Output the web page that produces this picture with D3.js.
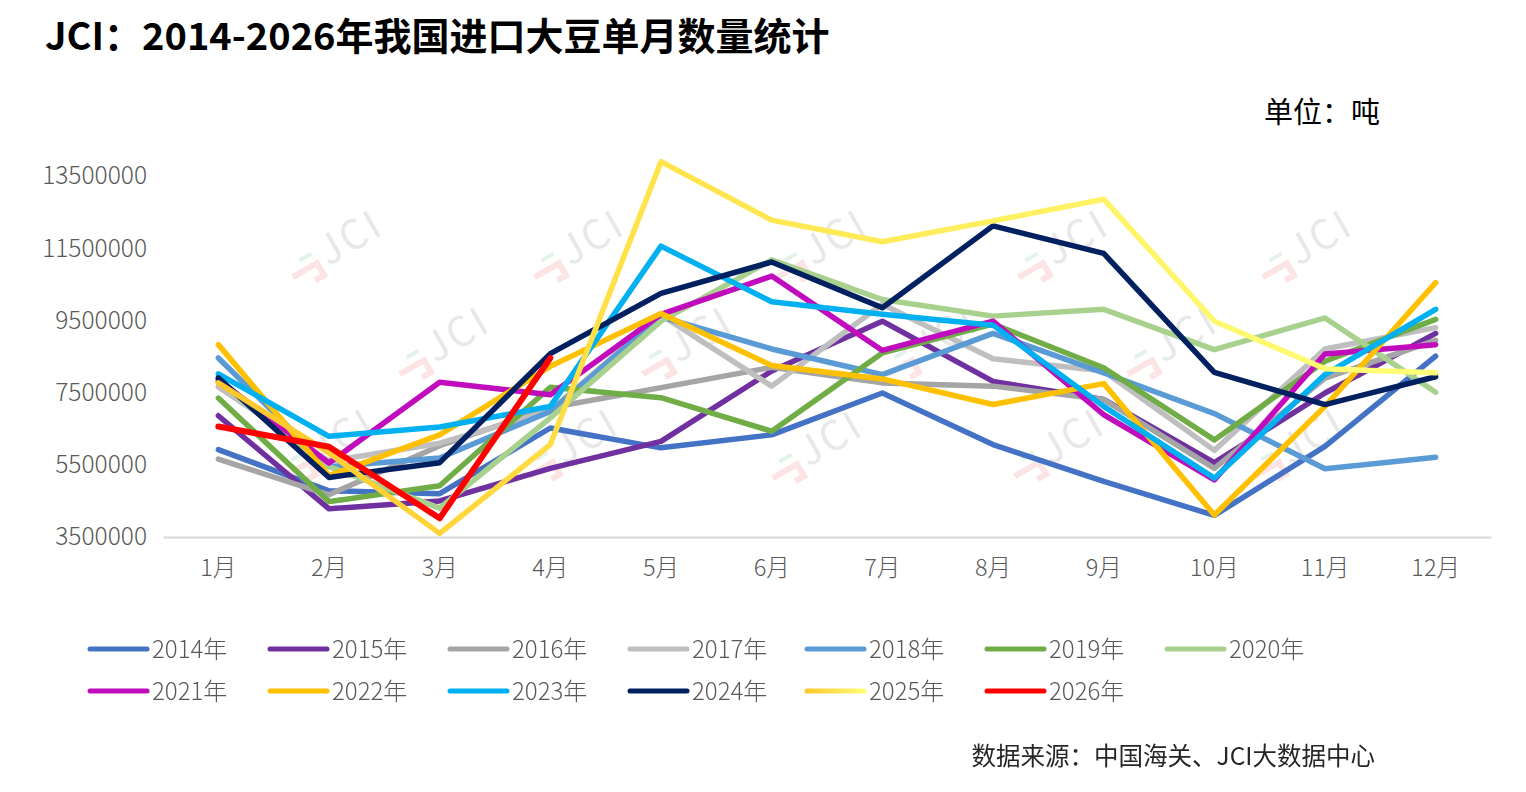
<!DOCTYPE html>
<html>
<head>
<meta charset="utf-8">
<script src="https://cdn.jsdelivr.net/npm/d3@7/dist/d3.min.js"></script>
<style>
  html, body { margin: 0; padding: 0; background: #fff; }
  svg { display: block; }
  text { font-family: "Noto Sans CJK SC", "Noto Sans", sans-serif; }
</style>
</head>
<body>
<svg id="chart" width="1526" height="792"></svg>
<script>
// ---------- data ----------
const months = ["1月","2月","3月","4月","5月","6月","7月","8月","9月","10月","11月","12月"];
const yTicks = [3500000, 5500000, 7500000, 9500000, 11500000, 13500000];

const y2014 = [5920000, 4780000, 4700000, 6520000, 5970000, 6330000, 7490000, 6060000, 5040000, 4100000, 6010000, 8510000];
const y2015 = [6860000, 4280000, 4500000, 5400000, 6150000, 8100000, 9480000, 7810000, 7310000, 5560000, 7490000, 9140000];
const y2016 = [5660000, 4670000, 6030000, 7080000, 7640000, 8200000, 7770000, 7680000, 7310000, 5400000, 7900000, 8950000];
const y2017 = [7660000, 5600000, 6100000, 7000000, 9650000, 7680000, 9950000, 8440000, 8100000, 5900000, 8710000, 9300000];
const y2018 = [8460000, 5450000, 5690000, 6980000, 9600000, 8710000, 8000000, 9140000, 8050000, 6920000, 5390000, 5710000];
const y2019 = [7350000, 4480000, 4920000, 7650000, 7360000, 6430000, 8600000, 9400000, 8190000, 6190000, 8370000, 9530000];
const y2020 = [7800000, 5450000, 4300000, 6800000, 9480000, 11180000, 10080000, 9620000, 9810000, 8690000, 9570000, 7510000];
const y2021 = [7850000, 5550000, 7790000, 7440000, 9670000, 10730000, 8670000, 9480000, 6890000, 5080000, 8570000, 8830000];
const y2022 = [8830000, 5200000, 6330000, 8230000, 9690000, 8250000, 7880000, 7170000, 7750000, 4110000, 7120000, 10550000];
const y2023 = [8020000, 6290000, 6550000, 7120000, 11560000, 10020000, 9670000, 9370000, 7120000, 5130000, 8000000, 9810000];
const y2024 = [7910000, 5150000, 5560000, 8580000, 10250000, 11120000, 9850000, 12120000, 11360000, 8060000, 7170000, 7940000];
const y2025 = [7770000, 5830000, 3600000, 6060000, 13900000, 12280000, 11680000, 12260000, 12860000, 9480000, 8160000, 8050000];
const y2026 = [6560000, 6000000, 4020000, 8460000];

const seriesNames = ["2014年","2015年","2016年","2017年","2018年","2019年","2020年","2021年","2022年","2023年","2024年","2025年","2026年"];
const seriesValues = [y2014,y2015,y2016,y2017,y2018,y2019,y2020,y2021,y2022,y2023,y2024,y2025,y2026];
const seriesColors = ["#4472C4","#7030A0","#A5A5A5","#BFBFBF","#5B9BD5","#70AD47","#A9D18E","#C00CBC","#FFC000","#00B0F0","#002060","url(#g2025)","#FF0000"];

const title = "JCI：2014-2026年我国进口大豆单月数量统计";
const unitLabel = "单位：吨";
const sourceLabel = "数据来源：中国海关、JCI大数据中心";

// ---------- chart ----------
const svg = d3.select("#chart");
const defs = svg.append("defs");

const x = d3.scaleBand().domain(months).range([163, 1491]).padding(0);
const y = d3.scaleLinear().domain([3500000, 14500000]).range([537, 140]);
const xc = m => x(m) + x.bandwidth() / 2;

// gradient for 2025 line
const g = defs.append("linearGradient").attr("id", "g2025")
  .attr("gradientUnits", "userSpaceOnUse")
  .attr("x1", xc(months[0])).attr("x2", xc(months[11])).attr("y1", 0).attr("y2", 0);
g.append("stop").attr("offset", "0%").attr("stop-color", "#FFC629");
g.append("stop").attr("offset", "35%").attr("stop-color", "#FFE34A");
g.append("stop").attr("offset", "100%").attr("stop-color", "#FFFF7A");
const gl = defs.append("linearGradient").attr("id", "g2025leg")
  .attr("x1", "0%").attr("x2", "100%");
gl.append("stop").attr("offset", "0%").attr("stop-color", "#FFC629");
gl.append("stop").attr("offset", "100%").attr("stop-color", "#FFFF7A");

// title
svg.append("text").attr("x", 45).attr("y", 50)
  .attr("font-size", 38).attr("font-weight", 700).attr("fill", "#000")
  .text(title);

// unit
svg.append("text").attr("x", 1380).attr("y", 123).attr("text-anchor", "end")
  .attr("font-size", 29).attr("fill", "#000").text(unitLabel);

// watermarks
const wmPos = [[340,243],[582,243],[825,243],[1066,243],[1310,243],
               [447,340],[690,340],[935,340],[1175,340],
               [332,442],[576,442],[820,444],[1062,442],[1302,442]];
const wm = svg.append("g").attr("opacity", 0.5);
wmPos.forEach(([cx, cy]) => {
  const gg = wm.append("g").attr("transform", `translate(${cx},${cy}) rotate(-30)`);
  gg.append("path").attr("d", "M-58,6 L-30,6 L-30,20 L-40,20")
    .attr("fill", "none").attr("stroke", "#FBC8C8").attr("stroke-width", 6).attr("stroke-linejoin", "miter");
  gg.append("path").attr("d", "M-44,-5 L-30,-5")
    .attr("stroke", "#C6E6D4").attr("stroke-width", 4);
  gg.append("text").attr("x", -22).attr("y", 14).attr("font-size", 40)
    .attr("font-weight", 400).attr("fill", "#CFCFCF").attr("font-family", "Liberation Sans, sans-serif")
    .attr("letter-spacing", 3)
    .text("JCI");
});

// x axis
const xAxis = svg.append("g").attr("transform", "translate(0,537)")
  .call(d3.axisBottom(x).tickSize(0).tickPadding(22));
xAxis.select(".domain").attr("stroke", "#D9D9D9").attr("stroke-width", 2);
xAxis.selectAll("text").attr("font-size", 23.5).attr("fill", "#595959")
  .attr("font-family", "Noto Sans CJK SC, sans-serif").attr("font-weight", 300);

// y axis
const yAxis = svg.append("g").attr("transform", "translate(163,0)")
  .call(d3.axisLeft(y).tickValues(yTicks).tickSize(0).tickPadding(16).tickFormat(d3.format("d")));
yAxis.select(".domain").remove();
yAxis.selectAll("text").attr("font-size", 24.5).attr("fill", "#595959")
  .attr("font-family", "Noto Sans CJK SC, sans-serif").attr("font-weight", 300);

// lines
const line = d3.line().x((d, i) => xc(months[i])).y(d => y(d));
const lines = svg.append("g");
seriesValues.forEach((vals, i) => {
  lines.append("path").datum(vals)
    .attr("d", line)
    .attr("fill", "none")
    .attr("stroke", seriesColors[i])
    .attr("stroke-width", i === 12 ? 6 : 5.5)
    .attr("stroke-linejoin", "round")
    .attr("stroke-linecap", "round");
});

// legend
const legX = [90, 270, 450, 630, 807, 987, 1167];
const legY = [649, 691];
const leg = svg.append("g");
seriesNames.forEach((name, i) => {
  const row = Math.floor(i / 7), col = i % 7;
  const lx = legX[col], ly = legY[row];
  if (i === 11) {
    leg.append("rect").attr("x", lx - 2.5).attr("y", ly - 2.5).attr("width", 62).attr("height", 5)
      .attr("rx", 2.5).attr("fill", "url(#g2025leg)");
  } else {
    leg.append("line").attr("x1", lx).attr("x2", lx + 57).attr("y1", ly).attr("y2", ly)
      .attr("stroke", seriesColors[i])
      .attr("stroke-width", 5).attr("stroke-linecap", "round");
  }
  leg.append("text").attr("x", lx + 62).attr("y", ly).attr("dy", "0.36em")
    .attr("font-size", 24).attr("fill", "#595959").attr("font-weight", 300)
    .text(name);
});

// source
svg.append("text").attr("x", 1375).attr("y", 765).attr("text-anchor", "end")
  .attr("font-size", 24.5).attr("fill", "#262626").text(sourceLabel);
</script>
</body>
</html>
